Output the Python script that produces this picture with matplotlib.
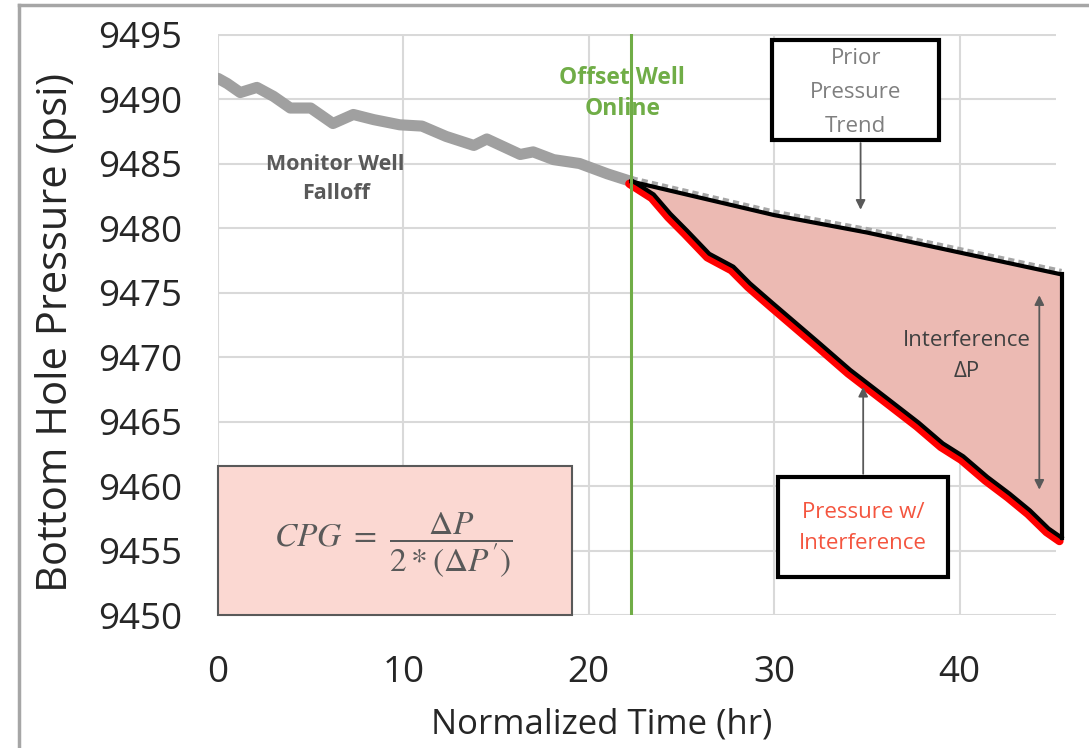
import numpy as np
import matplotlib
matplotlib.use("Agg")
import matplotlib.pyplot as plt
from matplotlib.patches import Rectangle
from matplotlib.lines import Line2D
from matplotlib.transforms import ScaledTranslation

plt.rcParams['font.family'] = ['Open Sans', 'DejaVu Sans']
plt.rcParams['mathtext.fontset'] = 'stix'

# Monitor well falloff (before offset well comes online)
falloff_t = [0, 0.5, 1.2, 2.1, 3.0, 3.9, 5.0, 6.2, 7.3, 8.4, 9.8, 11.0,
             12.3, 13.8, 14.5, 16.3, 17.0, 18.1, 19.5, 21.0, 22.3]
falloff_p = [9491.6, 9491.2, 9490.5, 9490.9, 9490.2, 9489.3, 9489.3, 9488.1,
             9488.8, 9488.4, 9488.0, 9487.9, 9487.1, 9486.4, 9486.9, 9485.7,
             9485.9, 9485.3, 9485.0, 9484.2, 9483.6]

# Prior pressure trend (extrapolated falloff)
trend_t = [22.3, 26.0, 30.0, 35.0, 40.0, 45.5]
trend_p = [9483.6, 9482.35, 9481.0, 9479.65, 9478.1, 9476.4]

# Pressure with interference
interf_t = [22.3, 23.5, 24.4, 25.3, 26.5, 27.8, 28.7, 29.9, 31.2, 32.5,
            34.1, 36.0, 37.8, 39.1, 40.2, 41.5, 42.7, 43.8, 44.8, 45.5]
interf_p = [9483.7, 9482.6, 9481.1, 9479.8, 9478.0, 9477.0, 9475.7, 9474.2,
            9472.6, 9471.0, 9469.0, 9466.9, 9464.9, 9463.3, 9462.3, 9460.7,
            9459.4, 9458.1, 9456.7, 9456.0]

offset_online = 22.3

x_ticks = [0, 10, 20, 30, 40]
y_ticks = [9450, 9455, 9460, 9465, 9470, 9475, 9480, 9485, 9490, 9495]

fig = plt.figure(figsize=(10.89, 7.48), dpi=100)
ax = fig.add_axes([218 / 1089, 1 - 615 / 748, (1056 - 218) / 1089, (615 - 34.5) / 748])

# outer frame (left and top edges visible)
fig.add_artist(Line2D([19 / 1089, 19 / 1089], [0, 1 - 5 / 748], color='#a6a6a6', lw=2.5,
                      transform=fig.transFigure))
fig.add_artist(Line2D([19 / 1089, 1], [1 - 5 / 748, 1 - 5 / 748], color='#a6a6a6', lw=2.5,
                      transform=fig.transFigure))

ax.set_xlim(0, 45.2)
ax.set_ylim(9450, 9495)
ax.set_xticks(x_ticks)
ax.set_yticks(y_ticks)
ax.grid(True, color='#d9d9d9', lw=1.5)
ax.set_axisbelow(True)
for s in ax.spines.values():
    s.set_visible(False)
ax.tick_params(length=0, labelsize=26.5, colors='#262626', pad=26)
ax.tick_params(axis='x', pad=29)

ax.set_xlabel('Normalized Time (hr)', fontsize=25, color='#262626')
ax.xaxis.set_label_coords(0.458, -0.16)
ax.set_ylabel('Bottom Hole Pressure (psi)', fontsize=30, color='#262626')
ax.yaxis.set_label_coords(-0.168, 0.487)

# interference area
poly_t = np.concatenate([trend_t, interf_t[::-1]])
poly_p = np.concatenate([trend_p, interf_p[::-1]])
ax.fill(poly_t, poly_p, color='#ecbab3', zorder=2, clip_on=False)

# monitor well falloff
ax.plot(falloff_t, falloff_p, color='#a0a0a0', lw=8, solid_capstyle='round', zorder=3)

# prior trend: dashed gray with black outline on top
up = ax.transData + ScaledTranslation(0, 2.5 / 72, fig.dpi_scale_trans)
ax.plot(trend_t, trend_p, color='#a6a6a6', lw=3, ls=(0, (1.5, 1)), transform=up, zorder=3,
        clip_on=False)
ax.plot(trend_t, trend_p, color='black', lw=3, zorder=5, clip_on=False)
ax.plot([trend_t[-1], interf_t[-1]], [trend_p[-1], interf_p[-1]], color='black', lw=3,
        zorder=5, clip_on=False)

# pressure with interference: red shadow + black line
down = ax.transData + ScaledTranslation(-1.5 / 72, -2.5 / 72, fig.dpi_scale_trans)
ax.plot(interf_t, interf_p, color='#ff0000', lw=6, transform=down, zorder=4,
        solid_capstyle='round', clip_on=False)
ax.plot(interf_t, interf_p, color='black', lw=3, zorder=5, clip_on=False)

# offset well online marker
ax.axvline(offset_online, color='#70ad47', lw=2.2, zorder=6)

# annotations
ax.text(6.35, 9483.8, 'Monitor Well\nFalloff', fontsize=15.5, fontweight='bold',
        color='#595959', ha='center', va='center', linespacing=1.45, zorder=7)
ax.text(21.8, 9490.45, 'Offset Well\nOnline', fontsize=16.5, fontweight='bold',
        color='#70ad47', ha='center', va='center', linespacing=1.4, zorder=7)

ax.add_patch(Rectangle((29.87, 9486.8), 9.03, 7.8, facecolor='white', edgecolor='black',
                       lw=3, zorder=8))
ax.text(34.4, 9490.5, 'Prior\nPressure\nTrend', fontsize=16, color='#7f7f7f',
        ha='center', va='center', linespacing=1.8, zorder=9)
ax.annotate('', xy=(34.66, 9481.2), xytext=(34.66, 9486.8),
            arrowprops=dict(arrowstyle='-|>', color='#595959', lw=1.3, mutation_scale=14),
            zorder=7)

ax.add_patch(Rectangle((30.2, 9452.98), 9.2, 7.75, facecolor='white', edgecolor='black',
                       lw=3, zorder=8))
ax.text(34.8, 9456.75, 'Pressure w/\nInterference', fontsize=16, color='#f4553f',
        ha='center', va='center', linespacing=1.65, zorder=9)
ax.annotate('', xy=(34.8, 9467.9), xytext=(34.8, 9460.73),
            arrowprops=dict(arrowstyle='-|>', color='#595959', lw=1.3, mutation_scale=14),
            zorder=7)

ax.text(40.4, 9470.1, 'Interference\n\u0394P', fontsize=16, color='#404040',
        ha='center', va='center', linespacing=1.65, zorder=9)
ax.annotate('', xy=(44.3, 9475.0), xytext=(44.3, 9459.5),
            arrowprops=dict(arrowstyle='<|-|>', color='#595959', lw=1.3, mutation_scale=14),
            zorder=7)

ax.add_patch(Rectangle((0, 9450), 19.08, 11.55, facecolor='#fbd8d2', edgecolor='#595959',
                       lw=1.5, zorder=8, clip_on=False))
ax.text(9.45, 9455.4, r"$CPG\ =\ \dfrac{\Delta P}{2 * (\Delta P')}$", fontsize=24,
        color='#595959', ha='center', va='center', zorder=9)

fig.savefig('out.png', dpi=100)
